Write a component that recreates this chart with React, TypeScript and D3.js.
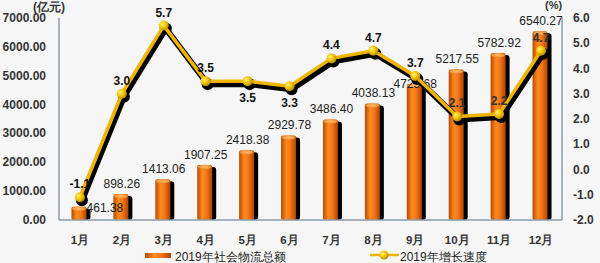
import React from "react";
import * as d3 from "d3";

const categories = ["1月", "2月", "3月", "4月", "5月", "6月", "7月", "8月", "9月", "10月", "11月", "12月"];
const totals = [461.38, 898.26, 1413.06, 1907.25, 2418.38, 2929.78, 3486.4, 4038.13, 4725.68, 5217.55, 5782.92, 6540.27];
const growth = [-1.1, 3.0, 5.7, 3.5, 3.5, 3.3, 4.4, 4.7, 3.7, 2.1, 2.2, 4.7];
const leftTicks = [0, 1000, 2000, 3000, 4000, 5000, 6000, 7000];
const rightTicks = [-2, -1, 0, 1, 2, 3, 4, 5, 6];
const seriesNames = ["2019年社会物流总额", "2019年增长速度"];

const W = 600, H = 263;
const L = 59, R = 562, T = 18, B = 220;

export default function App() {
  const x = d3.scaleBand<string>().domain(categories).range([L, R]).padding(0);
  const yL = d3.scaleLinear().domain([0, 7000]).range([B, T]);
  const yR = d3.scaleLinear().domain([-2, 6]).range([B, T]);
  const cx = (c: string) => (x(c) as number) + x.bandwidth() / 2;
  const bw = 15;
  const linePts: [number, number][] = categories.map((c, i) => [cx(c), yR(growth[i])]);
  const line = d3.line();
  const font = "'Liberation Sans', Arial, sans-serif";
  const labelUp = [true, true, true, true, false, false, true, true, true, true, true, true];
  const barLabelOff: Record<number, [number, number]> = { 0: [25, 11], 8: [0, 10] };

  return (
    <svg width={W} height={H} style={{ position: "absolute", left: 0, top: 0 }} fontFamily={font}>
      <defs>
        <linearGradient id="barG" x1="0" x2="1" y1="0" y2="0">
          <stop offset="0" stopColor="#b84a00" />
          <stop offset="0.35" stopColor="#ff8a1e" />
          <stop offset="0.6" stopColor="#f7781a" />
          <stop offset="1" stopColor="#b04400" />
        </linearGradient>
        <radialGradient id="capG" cx="0.5" cy="0.5" r="0.6">
          <stop offset="0" stopColor="#ffc070" />
          <stop offset="1" stopColor="#f08020" />
        </radialGradient>
        <radialGradient id="dotG" cx="0.35" cy="0.35" r="0.7">
          <stop offset="0" stopColor="#fff27a" />
          <stop offset="0.5" stopColor="#f2c400" />
          <stop offset="1" stopColor="#b08600" />
        </radialGradient>
      </defs>
      <rect x={0} y={0} width={W} height={H} fill="#f6f6f6" />

      {/* bars */}
      {categories.map((c, i) => {
        const x0 = cx(c) - bw / 2 - 1;
        const yt = yL(totals[i]);
        return (
          <g key={c}>
            <rect x={x0 + 4} y={yt + 2} width={bw} height={B - yt - 2} fill="#000" rx={3} />
            <rect x={x0} y={yt} width={bw} height={B - yt} fill="url(#barG)" rx={2} />
            <ellipse cx={x0 + bw / 2} cy={yt + 2} rx={bw / 2 - 0.5} ry={2.2} fill="url(#capG)" />
          </g>
        );
      })}

      {/* bar labels */}
      {categories.map((c, i) => {
        const off = barLabelOff[i] || [0, 0];
        return (
          <text key={c} x={cx(c) + off[0]} y={yL(totals[i]) - 6 + off[1]} textAnchor="middle" fontSize={12} fill="#222">
            {totals[i].toFixed(2)}
          </text>
        );
      })}

      {/* axes */}
      <line x1={L} x2={L} y1={T} y2={B} stroke="#8b9bab" strokeWidth={1.5} />
      <line x1={R} x2={R} y1={T} y2={B} stroke="#8b9bab" strokeWidth={1.5} />
      <line x1={L} x2={R} y1={B} y2={B} stroke="#8b9bab" strokeWidth={1.5} />

      {leftTicks.map((t) => (
        <text key={t} x={46} y={yL(t) + 4} textAnchor="end" fontSize={12} fontWeight="bold" fill="#333">
          {t.toFixed(2)}
        </text>
      ))}
      {rightTicks.map((t) => (
        <text key={t} x={573} y={yR(t) + 4} textAnchor="start" fontSize={12} fontWeight="bold" fill="#333">
          {t.toFixed(1)}
        </text>
      ))}
      {categories.map((c) => (
        <text key={c} x={cx(c)} y={244} textAnchor="middle" fontSize={11.5} fontWeight="bold" fill="#333">
          {c}
        </text>
      ))}
      <text x={33} y={11} fontSize={12} fontWeight="bold" fill="#333">(亿元)</text>
      <text x={545} y={9} fontSize={11} fontWeight="bold" fill="#333">(%)</text>

      {/* line shadow and line */}
      <path d={line(linePts.map(([a, b]) => [a + 2, b + 3]) as [number, number][]) || ""} fill="none" stroke="#000" strokeWidth={6} strokeLinejoin="round" />
      {linePts.map(([a, b], i) => (
        <circle key={i} cx={a + 2} cy={b + 3} r={6} fill="#000" />
      ))}
      <path d={line(linePts) || ""} fill="none" stroke="#f0b400" strokeWidth={3.5} strokeLinejoin="round" />
      {linePts.map(([a, b], i) => (
        <circle key={i} cx={a} cy={b} r={5} fill="url(#dotG)" />
      ))}

      {/* line labels */}
      {categories.map((c, i) => (
        <text key={c} x={cx(c)} y={labelUp[i] ? yR(growth[i]) - 9 : yR(growth[i]) + 21} textAnchor="middle" fontSize={12} fontWeight="bold" fill={i >= 9 ? "#333" : "#111"}>
          {growth[i].toFixed(1)}
        </text>
      ))}

      {/* legend */}
      <rect x={145} y={253} width={26} height={5} fill="url(#barG)" />
      <text x={175} y={261} fontSize={12} fill="#222">{seriesNames[0]}</text>
      <line x1={370} x2={399} y1={255} y2={255} stroke="#f0b400" strokeWidth={2.5} />
      <circle cx={384} cy={255} r={4.5} fill="url(#dotG)" />
      <text x={400} y={261} fontSize={12} fill="#222">{seriesNames[1]}</text>
    </svg>
  );
}
